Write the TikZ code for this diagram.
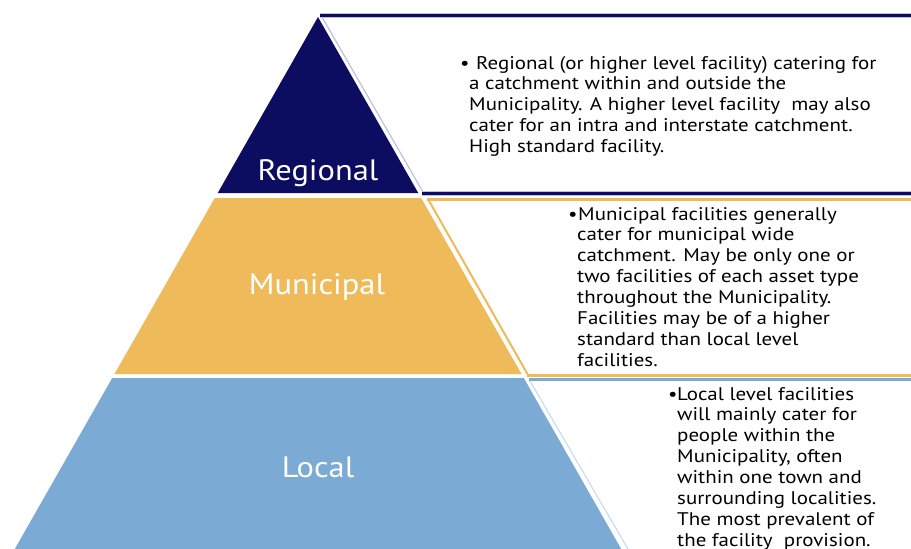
\documentclass[tikz,border=0pt]{standalone}
\usepackage{fontspec}
\setmainfont{PT Sans}
\newfontfamily\bodyfont[FakeStretch=1.145]{PT Sans}
\newfontfamily\lblfont[FakeStretch=1.1]{PT Sans}
\definecolor{navy}{RGB}{12,12,96}
\definecolor{lav}{RGB}{190,190,230}
\definecolor{gold}{RGB}{239,186,90}
\definecolor{sky}{RGB}{123,170,213}
\definecolor{skylight}{RGB}{200,220,242}
\tikzset{
  tierlabel/.style={text=white, font=\lblfont\fontsize{29.5}{34}\selectfont, inner sep=0pt},
  desc/.style={anchor=base west, inner sep=0pt,
    font=\bodyfont\fontsize{18.3}{20.9}\selectfont},
}
\newcommand{\bul}{\makebox[9pt][l]{\textbullet}}
\begin{document}
\begin{tikzpicture}[x=1pt,y=-1pt]
\useasboundingbox (0,0) rectangle (911,549);
\clip (0,0) rectangle (911,549);
% pyramid tiers
\fill[navy] (318,17) -- (418.3,193) -- (217.7,193) -- cycle;
\fill[gold] (214.8,198) -- (421.2,198) -- (521.5,374) -- (114.5,374) -- cycle;
\fill[sky] (112.2,378) -- (523.8,378) -- (621.2,549) -- (14.8,549) -- cycle;
% regional box
\draw[lav, line width=1.2] (322,17) -- (423,192);
\draw[lav, line width=5] (320,15.5) -- (911,15.5);
\draw[navy, line width=3] (320,15.5) -- (911,15.5);
\draw[lav, line width=5] (422,193) -- (911,193);
\draw[navy, line width=3] (422,193) -- (911,193);
% municipal box
\draw[gold, line width=2] (428,199) -- (528,375);
\draw[gold, line width=3.2] (427,199.5) -- (911,199.5);
\draw[gold, line width=3] (527,375) -- (911,375);
% local box
\draw[sky, line width=3] (529,379.5) -- (911,379.5);
\draw[skylight, line width=1.2] (530,381) -- (628,549);
% labels
\node[tierlabel] (lreg) at (318,173) {Regional};
\node[tierlabel] (lmun) at (317,287) {Municipal};
\node[tierlabel] (lloc) at (318,467) {Local};
% descriptions
\node[desc] (dreg) at (460,69) {\bul\begin{tabular}[t]{@{}l@{}}\hspace{7pt}Regional (or higher level facility) catering for\\a catchment within and outside the\\Municipality. A higher level facility \ may also\\cater for an intra and interstate catchment.\\High standard facility.\end{tabular}};
\node[desc] (dmun) at (568,220) {\bul\begin{tabular}[t]{@{}l@{}}\hspace{1pt}Municipal facilities generally\\cater for municipal wide\\catchment. May be only one or\\two facilities of each asset type\\throughout the Municipality.\\Facilities may be of a higher\\standard than local level\\facilities.\end{tabular}};
\node[desc] (dloc) at (668,400) {\bul\begin{tabular}[t]{@{}l@{}}Local level facilities\\will mainly cater for\\people within the\\Municipality, often\\within one town and\\surrounding localities.\\The most prevalent of\\the facility \ provision.\end{tabular}};
\end{tikzpicture}
\end{document}
